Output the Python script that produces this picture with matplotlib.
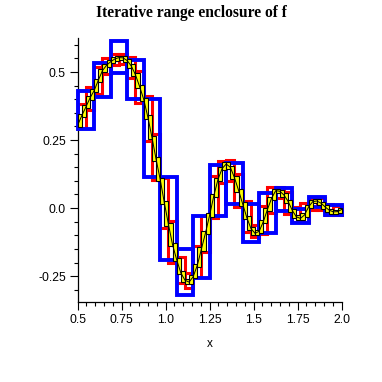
import matplotlib
matplotlib.use("Agg")
import matplotlib.pyplot as plt
from matplotlib.patches import Rectangle
from matplotlib.ticker import MultipleLocator, FixedLocator, FixedFormatter

curve_x = [0.5 + 1.5 * k / 64 for k in range(65)]
curve_y = [0.305, 0.340, 0.372, 0.405, 0.432, 0.470, 0.505, 0.525, 0.538,
           0.548, 0.553, 0.552, 0.542, 0.522, 0.490, 0.447, 0.400, 0.335,
           0.260, 0.180, 0.105, 0.020, -0.060, -0.135, -0.190, -0.238,
           -0.265, -0.272, -0.252, -0.210, -0.150, -0.090, -0.025, 0.045,
           0.105, 0.145, 0.162, 0.150, 0.112, 0.065, 0.015, -0.035, -0.075,
           -0.093, -0.085, -0.050, -0.005, 0.036, 0.064, 0.062, 0.048, 0.025,
           -0.008, -0.032, -0.038, -0.025, 0.005, 0.024, 0.026, 0.018, 0.004,
           -0.008, -0.014, -0.013, -0.005]

# first level: 16 boxes
blue_lo = [0.29, 0.41, 0.495, 0.40, 0.115, -0.19, -0.32, -0.258,
           -0.03, 0.015, -0.126, -0.093, -0.01, -0.054, 0.003, -0.025]
blue_hi = [0.43, 0.532, 0.615, 0.545, 0.40, 0.113, -0.152, -0.03,
           0.158, 0.165, 0.015, 0.056, 0.072, -0.005, 0.042, 0.01]

# second level: 32 boxes
red_lo = [0.293, 0.360, 0.420, 0.493, 0.526, 0.530, 0.478, 0.388,
          0.248, 0.105, -0.072, -0.202, -0.277, -0.292, -0.255, -0.162,
          -0.037, 0.093, 0.100, 0.003, -0.087, -0.108, -0.097, -0.017,
          0.036, -0.020, -0.050, -0.050, -0.007, -0.008, -0.026, -0.026]
red_hi = [0.384, 0.444, 0.517, 0.550, 0.565, 0.568, 0.554, 0.502,
          0.412, 0.272, 0.112, -0.048, -0.178, -0.240, -0.138, -0.03,
          0.117, 0.174, 0.176, 0.124, 0.027, -0.063, 0.007, 0.076,
          0.078, 0.060, 0.004, 0.017, 0.038, 0.038, 0.016, 0.007]

# third level: 64 boxes
yellow_lo = [0.299, 0.334, 0.366, 0.399, 0.426, 0.464, 0.499, 0.519,
             0.532, 0.542, 0.546, 0.536, 0.516, 0.484, 0.441, 0.394,
             0.329, 0.254, 0.174, 0.099, 0.014, -0.066, -0.141, -0.196,
             -0.244, -0.271, -0.280, -0.280, -0.258, -0.216, -0.156, -0.096,
             -0.031, 0.039, 0.099, 0.139, 0.144, 0.106, 0.059, 0.009,
             -0.041, -0.081, -0.099, -0.099, -0.091, -0.056, -0.011, 0.030,
             0.056, 0.042, 0.019, -0.014, -0.038, -0.044, -0.044, -0.031,
             -0.001, 0.018, 0.012, -0.002, -0.014, -0.020, -0.020, -0.019]
yellow_hi = [0.346, 0.378, 0.411, 0.438, 0.476, 0.511, 0.531, 0.544,
             0.554, 0.560, 0.560, 0.558, 0.548, 0.528, 0.496, 0.453,
             0.406, 0.341, 0.266, 0.186, 0.111, 0.026, -0.054, -0.129,
             -0.184, -0.232, -0.259, -0.246, -0.204, -0.144, -0.084, -0.019,
             0.051, 0.111, 0.151, 0.168, 0.170, 0.156, 0.118, 0.071,
             0.021, -0.029, -0.069, -0.079, -0.044, 0.001, 0.042, 0.070,
             0.070, 0.068, 0.054, 0.031, -0.002, -0.026, -0.019, 0.011,
             0.030, 0.032, 0.032, 0.024, 0.010, -0.002, -0.007, 0.001]

x_ticks = [0.5, 0.75, 1.0, 1.25, 1.5, 1.75, 2.0]
x_labels = ['0.5', '0.75', '1.0', '1.25', '1.5', '1.75', '2.0']
y_ticks = [-0.25, 0.0, 0.25, 0.5]
y_labels = ['-0.25', '0.0', '0.25', '0.5']

fig = plt.figure(figsize=(3.82, 3.82), dpi=100)
ax = fig.add_axes([0.2034, 0.2102, 0.6911, 0.6903])


def draw_boxes(lo, hi, **kw):
    w = 1.5 / len(lo)
    for i in range(len(lo)):
        ax.add_patch(Rectangle((0.5 + i * w, lo[i]), w, hi[i] - lo[i],
                               clip_on=False, **kw))


# red under blue, yellow boxes and the curve on top
draw_boxes(red_lo, red_hi, fill=False, ec='#ff0000', lw=2.2, zorder=2)
draw_boxes(blue_lo, blue_hi, fill=False, ec='#0000ff', lw=2.8, zorder=3)
draw_boxes(yellow_lo, yellow_hi, fc='#ffff00', ec='black', lw=0.8, zorder=4)
ax.plot(curve_x, curve_y, color='black', lw=0.7, zorder=5)

ax.set_xlim(0.5, 2.0)
ax.set_ylim(-0.344, 0.625)
for s in ['top', 'right']:
    ax.spines[s].set_visible(False)
for s in ['left', 'bottom']:
    ax.spines[s].set_linewidth(0.9)

ax.xaxis.set_major_locator(FixedLocator(x_ticks))
ax.xaxis.set_major_formatter(FixedFormatter(x_labels))
ax.xaxis.set_minor_locator(MultipleLocator(0.05))
ax.yaxis.set_major_locator(FixedLocator(y_ticks))
ax.yaxis.set_major_formatter(FixedFormatter(y_labels))
ax.yaxis.set_minor_locator(MultipleLocator(0.05))
ax.tick_params(which='major', length=5.5, width=0.8, labelsize=8.8, pad=3)
ax.tick_params(which='minor', length=3, width=0.8)
for lab in ax.get_xticklabels() + ax.get_yticklabels():
    lab.set_family('Liberation Sans')

fig.text(0.5, 1 - 13 / 382, 'Iterative range enclosure of f', ha='center',
         va='center', family='Liberation Serif', weight='bold', fontsize=11.2)
fig.text(209.7 / 382, 1 - 344 / 382, 'x', ha='center', va='center',
         family='Liberation Sans', fontsize=8.5)

fig.savefig('out.png', dpi=100)
